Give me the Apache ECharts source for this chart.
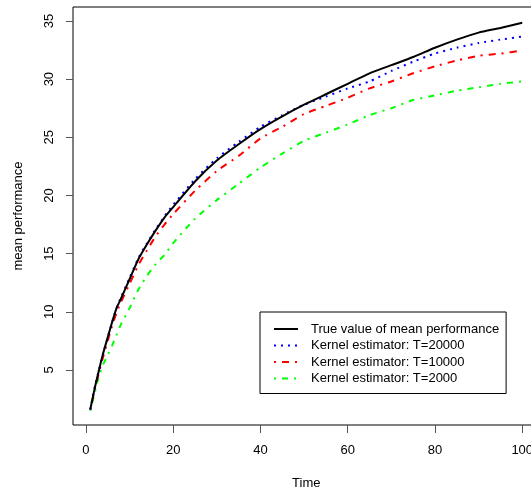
<!DOCTYPE html>
<html>
<head>
<meta charset="utf-8">
<script src="https://cdn.jsdelivr.net/npm/echarts@6/dist/echarts.min.js"></script>
<style>
  html, body { margin: 0; padding: 0; background: #fff; }
  #main { width: 531px; height: 496px; }
</style>
</head>
<body>
<div id="main"></div>
<script type="text/javascript">
    // 数据
    var time = [1, 2, 3, 4, 5, 6, 7, 8, 10, 12, 14, 16, 18, 20, 25, 30, 35, 40, 45, 50, 55, 60, 65, 70, 75, 80, 85, 90, 95, 100];
    var trueValue = [1.6, 3.4, 5.0, 6.5, 7.8, 9.1, 10.3, 11.1, 12.8, 14.5, 15.8, 17.0, 18.1, 19.0, 21.2, 23.0, 24.4, 25.7, 26.8, 27.8, 28.7, 29.6, 30.5, 31.2, 31.9, 32.7, 33.4, 34.0, 34.4, 34.85];
    var kernel20000 = [1.6, 3.5, 5.0, 6.5, 7.8, 9.1, 10.3, 11.2, 12.9, 14.6, 15.9, 17.1, 18.2, 19.2, 21.4, 23.2, 24.6, 25.9, 26.9, 27.8, 28.5, 29.2, 29.8, 30.7, 31.5, 32.2, 32.7, 33.1, 33.4, 33.65];
    var kernel10000 = [1.6, 3.3, 4.8, 6.2, 7.5, 8.8, 9.9, 10.8, 12.4, 14.0, 15.3, 16.5, 17.5, 18.4, 20.4, 22.1, 23.4, 24.9, 25.9, 27.0, 27.7, 28.4, 29.2, 29.8, 30.5, 31.1, 31.6, 32.0, 32.2, 32.45];
    var kernel2000 = [1.5, 3.0, 4.5, 5.5, 6.3, 7.1, 8.0, 8.9, 10.3, 11.9, 13.1, 14.1, 14.9, 15.9, 18.0, 19.6, 21.0, 22.4, 23.6, 24.7, 25.4, 26.1, 26.9, 27.5, 28.2, 28.6, 29.0, 29.3, 29.6, 29.8];
    var xTicks = [0, 20, 40, 60, 80, 100];
    var yTicks = [5, 10, 15, 20, 25, 30, 35];
    var names = ['True value of mean performance', 'Kernel estimator: T=20000', 'Kernel estimator: T=10000', 'Kernel estimator: T=2000'];

    function pairs(ys) {
        return time.map(function (t, i) { return [t, ys[i]]; });
    }

    var font = 'Liberation Sans, Arial, sans-serif';
    var myChart = echarts.init(document.getElementById('main'));

    var option = {
        animation: false,
        backgroundColor: '#fff',
        textStyle: { fontFamily: font },
        grid: {
            left: 73,
            top: 7,
            width: 466.5,
            height: 418,
            outerBoundsMode: 'none',
            containLabel: false,
            show: true,
            borderColor: '#000',
            borderWidth: 1
        },
        legend: {
            orient: 'vertical',
            left: 260,
            top: 312,
            data: names,
            itemWidth: 24,
            itemHeight: 14,
            itemGap: 2.5,
            padding: [10, 7, 8, 13],
            borderColor: '#000',
            borderWidth: 1,
            itemStyle: { opacity: 0 },
            textStyle: {
                fontFamily: font,
                fontSize: 13,
                color: '#000',
                lineHeight: 14,
                padding: [0, 0, 0, 8]
            }
        },
        xAxis: {
            type: 'value',
            min: -2.96,
            max: 103.96,
            name: 'Time',
            nameLocation: 'middle',
            nameGap: 52,
            nameTextStyle: { fontFamily: font, fontSize: 13, color: '#000' },
            axisLine: { show: false, onZero: false },
            axisTick: { show: true, length: 8, customValues: xTicks, lineStyle: { color: '#555' } },
            axisLabel: { customValues: xTicks, margin: 19, fontFamily: font, fontSize: 13, color: '#000' },
            splitLine: { show: false }
        },
        yAxis: {
            type: 'value',
            min: 0.27,
            max: 36.2,
            name: 'mean performance',
            nameLocation: 'middle',
            nameRotate: 90,
            nameGap: 48,
            nameTextStyle: { fontFamily: font, fontSize: 13, color: '#000' },
            axisLine: { show: false, onZero: false },
            axisTick: { show: true, length: 7, customValues: yTicks, lineStyle: { color: '#555' } },
            axisLabel: { customValues: yTicks, rotate: 90, margin: 17, fontFamily: font, fontSize: 13, color: '#000' },
            splitLine: { show: false }
        },
        series: [{
            name: names[0],
            type: 'line',
            symbol: 'none',
            smooth: 0.2,
            data: pairs(trueValue),
            z: 5,
            lineStyle: { color: '#000', width: 2 },
            itemStyle: { color: '#000' }
        }, {
            name: names[1],
            type: 'line',
            symbol: 'none',
            smooth: 0.2,
            data: pairs(kernel20000),
            z: 4,
            lineStyle: { color: '#0000ff', width: 2, type: [2, 5] },
            itemStyle: { color: '#0000ff' }
        }, {
            name: names[2],
            type: 'line',
            symbol: 'none',
            smooth: 0.2,
            data: pairs(kernel10000),
            z: 3,
            lineStyle: { color: '#ff0000', width: 2, type: [2, 6, 7, 6] },
            itemStyle: { color: '#ff0000' }
        }, {
            name: names[3],
            type: 'line',
            symbol: 'none',
            smooth: 0.2,
            data: pairs(kernel2000),
            z: 2,
            lineStyle: { color: '#00ff00', width: 2, type: [2, 6, 6, 6] },
            itemStyle: { color: '#00ff00' }
        }]
    };
    myChart.setOption(option);
</script>
</body>
</html>
